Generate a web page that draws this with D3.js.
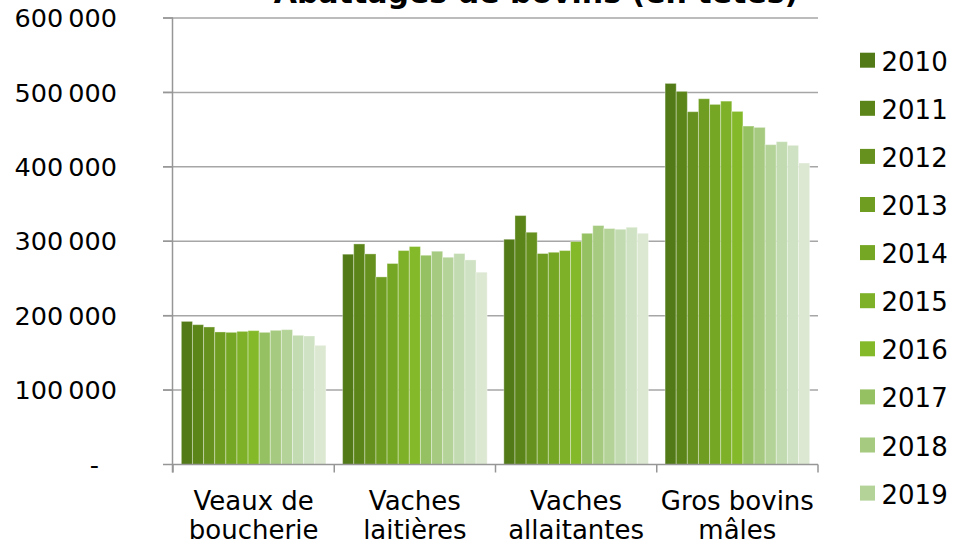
<!DOCTYPE html>
<html>
<head>
<meta charset="utf-8">
<script src="https://cdn.jsdelivr.net/npm/d3@7"></script>
<style>
  body { margin: 0; background: #fff; }
  svg { display: block; font-family: "DejaVu Sans", Verdana, sans-serif; }
  .tick-label { font-size: 25.5px; fill: #000; }
  .cat-label { font-size: 26px; fill: #000; }
  .legend-label { font-size: 26px; fill: #000; }
  .title { font-size: 30px; font-weight: bold; fill: #000; }
</style>
</head>
<body>
<svg id="chart" width="953" height="545"></svg>
<script>
const width = 953;
const height = 545;

/* DATA */
const categories = [
  ["Veaux de", "boucherie"],
  ["Vaches", "laitières"],
  ["Vaches", "allaitantes"],
  ["Gros bovins", "mâles"]
];
const categoryKeys = categories.map(c => c.join(" "));
const years = ["2010", "2011", "2012", "2013", "2014", "2015", "2016",
               "2017", "2018", "2019", "2020", "2021", "2022"];

// one array per category, one value per year
const veaux = [192300, 187900, 184800, 178100, 177600, 178900, 179900,
               177600, 180300, 181200, 173600, 172700, 160100];
const laitieres = [282600, 296400, 283000, 252100, 270100, 287500, 292900,
                   281200, 286600, 278500, 283500, 274900, 258400];
const allaitantes = [302700, 334500, 312100, 283500, 285200, 287500, 299600,
                     310700, 321100, 317100, 316100, 318800, 310700];
const grosBovins = [512100, 501400, 474100, 491500, 483900, 488300, 474500,
                    454800, 453000, 429800, 433800, 428900, 405100];
const seriesValues = [veaux, laitieres, allaitantes, grosBovins];

const yTicks = [0, 100000, 200000, 300000, 400000, 500000, 600000];

const colors = ["#527a16", "#5b8519", "#66911e", "#6e9d21", "#76a724", "#7eb128",
                "#84b92a", "#96c163", "#a6ca80", "#b4d398", "#c2dbb0", "#cfe2c3", "#dce8d2"];

const legendYears = years.slice(0, 10);

/* PLOT */
const svg = d3.select("svg#chart");

const plot = { left: 173, right: 818, top: 18, bottom: 464.5 };

/* SCALES */
const scales = {
  x: d3.scaleBand().domain(categoryKeys).range([plot.left, plot.right]).padding(0),
  y: d3.scaleLinear().domain([0, 600000]).range([plot.bottom, plot.top]),
  color: d3.scaleOrdinal().domain(years).range(colors)
};
scales.year = d3.scaleBand()
  .domain(years)
  .range([0, scales.x.bandwidth()])
  .paddingInner(0)
  .paddingOuter(0.75);

/* TITLE (cut off at top like the reference) */
svg.append("text")
  .attr("class", "title")
  .attr("x", 536)
  .attr("y", 3)
  .attr("text-anchor", "middle")
  .text("Abattages de bovins (en têtes)");

/* GRID */
const gridGroup = svg.append("g").attr("id", "grid");
gridGroup.selectAll("line")
  .data(yTicks.filter(d => d > 0))
  .enter()
  .append("line")
  .attr("x1", plot.left - 10)
  .attr("x2", plot.right)
  .attr("y1", d => scales.y(d))
  .attr("y2", d => scales.y(d))
  .attr("stroke", "#a6a6a6")
  .attr("stroke-width", 1.5);

/* BARS */
const barData = [];
categoryKeys.forEach((cat, ci) => {
  years.forEach((yr, yi) => {
    barData.push({ cat: cat, year: yr, value: seriesValues[ci][yi] });
  });
});

svg.append("g").attr("id", "bars")
  .selectAll("rect")
  .data(barData)
  .enter()
  .append("rect")
  .attr("x", d => scales.x(d.cat) + scales.year(d.year))
  .attr("y", d => scales.y(d.value))
  .attr("width", scales.year.bandwidth())
  .attr("height", d => scales.y(0) - scales.y(d.value))
  .attr("fill", d => scales.color(d.year))
  .attr("stroke", "rgba(255,255,255,0.35)")
  .attr("stroke-width", 1);

/* AXES */
const axisColor = "#969696";

const yAxisGroup = svg.append("g").attr("id", "y-axis");
yAxisGroup.append("line")
  .attr("x1", plot.left - 0.5).attr("x2", plot.left - 0.5)
  .attr("y1", plot.top).attr("y2", plot.bottom + 8)
  .attr("stroke", axisColor).attr("stroke-width", 1.5);
yAxisGroup.selectAll("line.tick")
  .data(yTicks)
  .enter()
  .append("line")
  .attr("class", "tick")
  .attr("x1", plot.left - 10).attr("x2", plot.left)
  .attr("y1", d => scales.y(d)).attr("y2", d => scales.y(d))
  .attr("stroke", axisColor).attr("stroke-width", 1.5);

const fmt = d => d === 0 ? "-" : d3.format(",")(d).replace(/,/g, "\u2009");
yAxisGroup.selectAll("text")
  .data(yTicks)
  .enter()
  .append("text")
  .attr("class", "tick-label")
  .attr("x", d => d === 0 ? 99 : 117)
  .attr("y", d => scales.y(d))
  .attr("dy", "0.36em")
  .attr("text-anchor", "end")
  .text(fmt);

const xAxisGroup = svg.append("g").attr("id", "x-axis");
xAxisGroup.append("line")
  .attr("x1", plot.left).attr("x2", plot.right)
  .attr("y1", plot.bottom).attr("y2", plot.bottom)
  .attr("stroke", axisColor).attr("stroke-width", 1.5);

const catEdges = categoryKeys.map(c => scales.x(c)).concat([plot.right]);
xAxisGroup.selectAll("line.tick")
  .data(catEdges)
  .enter()
  .append("line")
  .attr("class", "tick")
  .attr("x1", d => d).attr("x2", d => d)
  .attr("y1", plot.bottom).attr("y2", plot.bottom + 8)
  .attr("stroke", axisColor).attr("stroke-width", 1.5);

const catLabels = xAxisGroup.selectAll("text")
  .data(categories)
  .enter()
  .append("text")
  .attr("class", "cat-label")
  .attr("text-anchor", "middle")
  .attr("x", (d, i) => scales.x(categoryKeys[i]) + scales.x.bandwidth() / 2)
  .attr("y", 510);

catLabels.append("tspan")
  .attr("x", function() { return d3.select(this.parentNode).attr("x"); })
  .text(d => d[0]);
catLabels.append("tspan")
  .attr("x", function() { return d3.select(this.parentNode).attr("x"); })
  .attr("dy", 28.5)
  .text(d => d[1]);

/* LEGEND */
const legend = svg.append("g").attr("id", "legend")
  .attr("transform", "translate(860, 52.7)");

const legendRows = legend.selectAll("g")
  .data(legendYears)
  .enter()
  .append("g")
  .attr("transform", (d, i) => "translate(0," + (i * 48.1) + ")");

legendRows.append("rect")
  .attr("width", 15)
  .attr("height", 15)
  .attr("fill", d => scales.color(d));

legendRows.append("text")
  .attr("class", "legend-label")
  .attr("x", 21.5)
  .attr("y", 18)
  .text(d => d);
</script>
</body>
</html>
